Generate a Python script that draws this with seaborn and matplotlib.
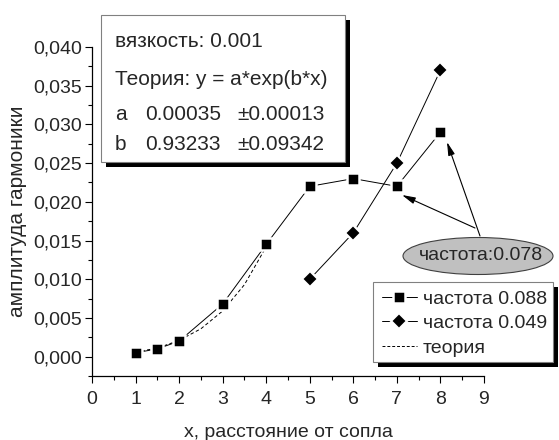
import matplotlib
matplotlib.use("Agg")
import matplotlib.pyplot as plt
import seaborn as sns
import pandas as pd
from matplotlib.patches import Rectangle, Ellipse
from matplotlib.ticker import FuncFormatter, MultipleLocator
from matplotlib.lines import Line2D

# ---- data ----
x_088 = [1, 1.5, 2, 3, 4, 5, 6, 7, 8]
y_088 = [0.0005, 0.001, 0.002, 0.0068, 0.0145, 0.022, 0.023, 0.022, 0.029]
x_049 = [5, 6, 7, 8]
y_049 = [0.010, 0.016, 0.025, 0.037]
x_theory = [1, 1.5, 2, 2.5, 3, 3.5, 4]
y_theory = [0.0006, 0.0011, 0.0021, 0.0036, 0.0059, 0.0093, 0.0142]
y_ticks = [0, 0.005, 0.01, 0.015, 0.02, 0.025, 0.03, 0.035, 0.04]

label_088 = "частота 0.088"
label_049 = "частота 0.049"
label_theory = "теория"
x_label = "x, расстояние от сопла"
y_label = "амплитуда гармоники"
box_lines = ["вязкость: 0.001", "Теория: y = a*exp(b*x)"]
params = [("a", "0.00035", "±0.00013"), ("b", "0.93233", "±0.09342")]
callout = "частота:0.078"

sns.set_style("ticks")
plt.rcParams['font.family'] = ['Liberation Sans', 'DejaVu Sans']

W, H = 559, 440
fig = plt.figure(figsize=(W / 100, H / 100), dpi=100)
ax = fig.add_axes([92 / W, 1 - 376 / H, (484 - 92) / W, (376 - 47) / H])

def fx(px):
    return px / W

def fy(py):
    return 1 - py / H

df088 = pd.DataFrame({"x": x_088, "y": y_088})
df049 = pd.DataFrame({"x": x_049, "y": y_049})
dfth = pd.DataFrame({"x": x_theory, "y": y_theory})

lw = 0.7
sns.lineplot(data=dfth, x="x", y="y", ax=ax, color="black", lw=lw,
             linestyle=(0, (3.5, 2.5)), sort=False)
sns.lineplot(data=df088, x="x", y="y", ax=ax, color="black", lw=lw,
             marker="s", markersize=8, markeredgecolor="white",
             markeredgewidth=1.8, sort=False)
sns.lineplot(data=df049, x="x", y="y", ax=ax, color="black", lw=lw,
             marker="D", markersize=8, markeredgecolor="white",
             markeredgewidth=1.6, sort=False)

ax.set_xlim(0, 9)
ax.set_ylim(-0.0025, 0.040)
ax.xaxis.set_major_locator(MultipleLocator(1))
ax.xaxis.set_minor_locator(MultipleLocator(0.5))
ax.yaxis.set_minor_locator(MultipleLocator(0.0025))
ax.set_yticks(y_ticks)
ax.yaxis.set_major_formatter(FuncFormatter(lambda v, p: f"{v:.3f}".replace(".", ",").replace("-0,000", "0,000")))
ax.tick_params(which="major", direction="out", length=5, width=0.8, labelsize=14, color="black")
ax.tick_params(axis="y", which="major", pad=2)
ax.tick_params(axis="x", which="major", pad=6)
ax.tick_params(which="minor", direction="out", length=3, width=0.8, color="black")
for s in ["top", "right"]:
    ax.spines[s].set_visible(False)
for s in ["left", "bottom"]:
    ax.spines[s].set_linewidth(0.9)
    ax.spines[s].set_color("black")
ax.set_xlabel("")
ax.set_ylabel("")
fig.text(fx(288), fy(437), x_label, ha="center", va="baseline", fontsize=14)
fig.text(fx(23), fy(211), y_label, ha="center", va="baseline", rotation=90,
         rotation_mode="anchor", fontsize=15)

# ---- text box ----
bx0, by0, bx1, by1 = 101, 15, 345, 162
sh = 5
fig.patches.append(Rectangle((fx(bx0 + sh), fy(by1 + sh)), fx(bx1 - bx0), (by1 - by0) / H,
                             transform=fig.transFigure, facecolor="black", edgecolor="none", zorder=5))
fig.patches.append(Rectangle((fx(bx0), fy(by1)), fx(bx1 - bx0), (by1 - by0) / H,
                             transform=fig.transFigure, facecolor="white", edgecolor="#808080", lw=0.8, zorder=6))
tfs = 15
fig.text(fx(115), fy(47), box_lines[0], ha="left", va="baseline", fontsize=tfs, zorder=7)
fig.text(fx(115), fy(85), box_lines[1], ha="left", va="baseline", fontsize=tfs, zorder=7)
for i, (n, v, e) in enumerate(params):
    yy = fy(120 + 30 * i)
    fig.text(fx(115), yy, n, ha="left", va="baseline", fontsize=tfs, zorder=7)
    fig.text(fx(145), yy, v, ha="left", va="baseline", fontsize=tfs, zorder=7)
    fig.text(fx(237), yy, e, ha="left", va="baseline", fontsize=tfs, zorder=7)

# ---- legend ----
lx0, ly0, lx1, ly1 = 373, 282, 553, 362
fig.patches.append(Rectangle((fx(lx0 + sh), fy(ly1 + sh)), fx(lx1 - lx0), (ly1 - ly0) / H,
                             transform=fig.transFigure, facecolor="black", edgecolor="none", zorder=5))
fig.patches.append(Rectangle((fx(lx0), fy(ly1)), fx(lx1 - lx0), (ly1 - ly0) / H,
                             transform=fig.transFigure, facecolor="white", edgecolor="#808080", lw=0.8, zorder=6))
handles = [
    Line2D([], [], color="black", lw=lw, marker="s", markersize=8, markeredgecolor="white", markeredgewidth=1.8),
    Line2D([], [], color="black", lw=lw, marker="D", markersize=8, markeredgecolor="white", markeredgewidth=1.6),
    Line2D([], [], color="black", lw=lw, linestyle=(0, (3, 2))),
]
leg = fig.legend(handles, [label_088, label_049, label_theory], loc="upper left",
                 bbox_to_anchor=(fx(380), fy(ly0 + 6)), frameon=False, fontsize=14,
                 handlelength=1.8, handletextpad=0.3, labelspacing=0.36, borderpad=0.1,
                 borderaxespad=0, numpoints=1)
leg.set_zorder(8)

# ---- callout ----
fig.patches.append(Ellipse((fx(478), fy(256)), fx(150), 37 / H, transform=fig.transFigure,
                           facecolor="#c0c0c0", edgecolor="#404040", lw=0.8, zorder=6))
fig.text(fx(481), fy(256), callout, ha="center", va="center", fontsize=14, zorder=7)
arrow = dict(arrowstyle="-|>,head_length=0.8,head_width=0.2", color="black", lw=0.8,
             shrinkA=0, shrinkB=0)
ax.annotate("", xy=(402, H - 195), xycoords="figure pixels",
            xytext=(475, H - 228), textcoords="figure pixels", arrowprops=arrow)
ax.annotate("", xy=(447, H - 142), xycoords="figure pixels",
            xytext=(480, H - 236), textcoords="figure pixels", arrowprops=arrow)

fig.savefig("out.png", dpi=100)
